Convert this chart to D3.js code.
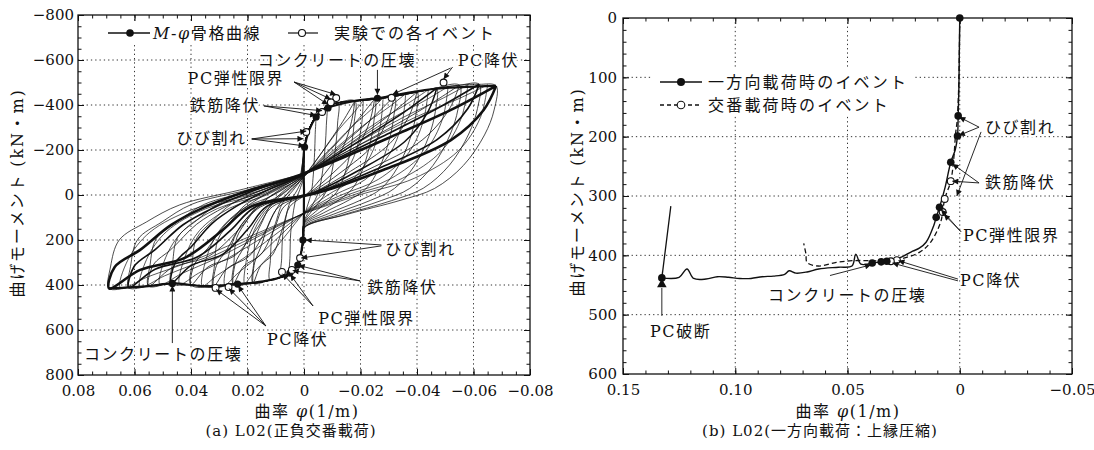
<!DOCTYPE html>
<html><head><meta charset="utf-8">
<script src="https://cdn.jsdelivr.net/npm/d3@7"></script>
<style>body{margin:0;background:#fff;}svg{display:block;}</style>
</head><body>
<svg id="c" width="1094" height="450"></svg>
<script>
// ===================== DATA : panel (a) =====================
const xTicksA = [0.08, 0.06, 0.04, 0.02, 0, -0.02, -0.04, -0.06, -0.08];
const yTicksA = [-800, -600, -400, -200, 0, 200, 400, 600, 800];
const xMinorA = d3.range(-16, 17).map(k => k * 0.005);
const yMinorA = d3.range(-16, 17).map(k => k * 50);

const envNeg = [[-0.0002,-205],[-0.001,-265],[-0.002,-300],[-0.004,-345],[-0.007,-385],[-0.012,-410],[-0.02,-420],[-0.026,-427],[-0.035,-445],[-0.045,-470],[-0.055,-488],[-0.062,-492]];
const envPos = [[0.0002,200],[0.0015,280],[0.0025,307],[0.005,350],[0.008,365],[0.012,378],[0.018,392],[0.025,395],[0.032,408],[0.04,400],[0.047,392],[0.055,405],[0.062,412]];

// cycle peaks: [phiNeg, Mneg, phiPos, Mpos]
const cycleTips = [
 [-0.004,-345,0.005,350],[-0.008,-395,0.008,365],[-0.012,-410,0.012,378],[-0.018,-418,0.018,392],
 [-0.025,-427,0.025,395],[-0.032,-440,0.032,408],[-0.04,-458,0.04,400],[-0.047,-475,0.047,392],
 [-0.055,-488,0.055,405],[-0.062,-492,0.062,412],[-0.068,-485,0.069,415]];

const unloadNeg = [
 [[-0.00396,-269],[-0.00376,-190],[-0.00332,-93],[-0.00272,-21],[-0.002,17],[-0.00088,62],[0,104]],
 [[-0.0079,-308],[-0.0075,-217],[-0.0066,-107],[-0.0054,-24],[-0.004,20],[-0.0018,71],[0,119]],
 [[-0.0119,-320],[-0.0113,-226],[-0.01,-111],[-0.0082,-25],[-0.006,21],[-0.0026,74],[0,123]],
 [[-0.0178,-326],[-0.0169,-230],[-0.0149,-113],[-0.0122,-25],[-0.009,21],[-0.004,75],[0,125]],
 [[-0.0248,-333],[-0.0235,-235],[-0.0208,-115],[-0.017,-26],[-0.0125,21],[-0.0055,77],[0,128]],
 [[-0.0317,-343],[-0.0301,-242],[-0.0266,-119],[-0.0218,-26],[-0.016,22],[-0.007,79],[0,132]],
 [[-0.0396,-357],[-0.0376,-252],[-0.0332,-124],[-0.0272,-27],[-0.02,23],[-0.0088,82],[0,137]],
 [[-0.0465,-371],[-0.0442,-261],[-0.039,-128],[-0.032,-29],[-0.0235,24],[-0.0103,86],[0,143]],
 [[-0.0545,-381],[-0.0517,-268],[-0.0457,-132],[-0.0374,-29],[-0.0275,24],[-0.0121,88],[0,146]],
 [[-0.0614,-384],[-0.0583,-271],[-0.0515,-133],[-0.0422,-30],[-0.031,25],[-0.0136,89],[0,148]],
 [[-0.0673,-378],[-0.0639,-267],[-0.0564,-131],[-0.0462,-29],[-0.034,24],[-0.015,87],[0,146]]];

const unloadPos = [
 [[0.00495,270],[0.0047,168],[0.00405,102],[0.0032,35],[0.00165,-18],[0.0001,-74]],
 [[0.0079,281],[0.0075,175],[0.0065,106],[0.0051,37],[0.0026,-18],[0.0002,-77]],
 [[0.0119,291],[0.0113,181],[0.0097,110],[0.0077,38],[0.004,-19],[0.0002,-79]],
 [[0.0178,302],[0.0171,188],[0.0146,114],[0.0115,39],[0.0059,-20],[0.0004,-82]],
 [[0.0248,304],[0.0238,190],[0.0203,115],[0.016,40],[0.0083,-20],[0.0005,-83]],
 [[0.0317,314],[0.0304,196],[0.0259,118],[0.0205,41],[0.0106,-20],[0.0006,-86]],
 [[0.0396,308],[0.038,192],[0.0324,116],[0.0256,40],[0.0132,-20],[0.0008,-84]],
 [[0.0465,302],[0.0447,188],[0.0381,114],[0.0301,39],[0.0155,-20],[0.0009,-82]],
 [[0.0545,312],[0.0523,194],[0.0446,117],[0.0352,41],[0.0182,-20],[0.0011,-85]],
 [[0.0614,317],[0.0589,198],[0.0502,119],[0.0397,41],[0.0205,-21],[0.0012,-87]],
 [[0.0685,320],[0.0654,200],[0.0558,120],[0.044,44],[0.0228,-22],[0.0014,-89]]];

// repeated (stabilised) cycles
const lensCycles = [
 [[-0.018,-418],[-0.0168,-326],[-0.0137,-209],[-0.0074,-96],[-0.0013,-8],[0.005,51],[0.0076,149],[0.011,263],[0.0153,314],[0.018,392],[0.0175,302],[0.0153,231],[0.0124,125],[0.0092,51],[0.005,-20],[0.0004,-75],[-0.009,-238],[-0.0137,-326],[-0.018,-418]],
 [[-0.025,-427],[-0.0234,-333],[-0.019,-214],[-0.0103,-98],[-0.0018,-9],[0.007,51],[0.0105,150],[0.0153,265],[0.0213,316],[0.025,395],[0.0243,304],[0.0213,233],[0.0173,126],[0.0128,51],[0.007,-20],[0.0005,-77],[-0.0125,-243],[-0.019,-333],[-0.025,-427]],
 [[-0.032,-440],[-0.0299,-343],[-0.0243,-220],[-0.0131,-101],[-0.0022,-9],[0.009,53],[0.0134,155],[0.0195,273],[0.0272,326],[0.032,408],[0.031,314],[0.0272,241],[0.0221,131],[0.0163,53],[0.009,-20],[0.0006,-79],[-0.016,-251],[-0.0243,-343],[-0.032,-440]],
 [[-0.04,-458],[-0.0374,-357],[-0.0304,-229],[-0.0164,-105],[-0.0028,-9],[0.0112,52],[0.0168,152],[0.0244,268],[0.034,320],[0.04,400],[0.0388,308],[0.034,236],[0.0276,128],[0.0204,52],[0.0112,-20],[0.0008,-82],[-0.02,-261],[-0.0304,-357],[-0.04,-458]],
 [[-0.047,-475],[-0.0439,-371],[-0.0357,-238],[-0.0193,-109],[-0.0033,-10],[0.0132,51],[0.0197,149],[0.0287,263],[0.04,314],[0.047,392],[0.0456,302],[0.04,231],[0.0324,125],[0.024,51],[0.0132,-20],[0.0009,-86],[-0.0235,-271],[-0.0357,-371],[-0.047,-475]],
 [[-0.055,-488],[-0.0514,-381],[-0.0418,-244],[-0.0226,-112],[-0.0039,-10],[0.0154,53],[0.0231,154],[0.0336,271],[0.0468,324],[0.055,405],[0.0534,312],[0.0468,239],[0.038,130],[0.028,53],[0.0154,-20],[0.0011,-88],[-0.0275,-278],[-0.0418,-381],[-0.055,-488]],
 [[-0.062,-492],[-0.058,-384],[-0.0471,-246],[-0.0254,-113],[-0.0043,-10],[0.0174,54],[0.026,157],[0.0378,276],[0.0527,330],[0.062,412],[0.0601,317],[0.0527,243],[0.0428,132],[0.0316,54],[0.0174,-21],[0.0012,-89],[-0.031,-280],[-0.0471,-384],[-0.062,-492]],
 [[-0.068,-485],[-0.0636,-378],[-0.052,-244],[-0.028,-111],[-0.0046,-9],[0.019,53],[0.029,158],[0.042,278],[0.058,333],[0.069,415],[0.067,320],[0.058,244],[0.047,133],[0.035,53],[0.019,-22],[0.0015,-89],[-0.034,-276],[-0.052,-378],[-0.068,-485]]];

// intermediate-amplitude cycles
const midCycles = [
 [[-0.021,-421],[-0.0202,-295],[-0.0176,-168],[-0.0126,-63],[-0.0063,0],[0,79],[0.0063,177],[0.0126,275],[0.0179,346],[0.021,393],[0.0202,275],[0.0176,157],[0.0126,59],[0.0063,0],[0,-84],[-0.0063,-189],[-0.0126,-295],[-0.0179,-370],[-0.021,-421]],
 [[-0.028,-432],[-0.0269,-302],[-0.0235,-173],[-0.0168,-65],[-0.0084,0],[0,80],[0.0084,180],[0.0168,280],[0.0238,352],[0.028,400],[0.0269,280],[0.0235,160],[0.0168,60],[0.0084,0],[0,-86],[-0.0084,-194],[-0.0168,-302],[-0.0238,-380],[-0.028,-432]],
 [[-0.036,-450],[-0.0346,-315],[-0.0302,-180],[-0.0216,-68],[-0.0108,0],[0,81],[0.0108,182],[0.0216,283],[0.0306,356],[0.036,404],[0.0346,283],[0.0302,162],[0.0216,61],[0.0108,0],[0,-90],[-0.0108,-203],[-0.0216,-315],[-0.0306,-396],[-0.036,-450]],
 [[-0.044,-468],[-0.0422,-328],[-0.037,-187],[-0.0264,-70],[-0.0132,0],[0,79],[0.0132,178],[0.0264,277],[0.0374,348],[0.044,396],[0.0422,277],[0.037,158],[0.0264,59],[0.0132,0],[0,-94],[-0.0132,-211],[-0.0264,-328],[-0.0374,-412],[-0.044,-468]],
 [[-0.051,-482],[-0.049,-337],[-0.0428,-193],[-0.0306,-72],[-0.0153,0],[0,80],[0.0153,179],[0.0306,279],[0.0434,350],[0.051,398],[0.049,279],[0.0428,159],[0.0306,60],[0.0153,0],[0,-96],[-0.0153,-217],[-0.0306,-337],[-0.0434,-424],[-0.051,-482]],
 [[-0.058,-490],[-0.0557,-343],[-0.0487,-196],[-0.0348,-74],[-0.0174,0],[0,82],[0.0174,184],[0.0348,286],[0.0493,359],[0.058,408],[0.0557,286],[0.0487,163],[0.0348,61],[0.0174,0],[0,-98],[-0.0174,-221],[-0.0348,-343],[-0.0493,-431],[-0.058,-490]],
 [[-0.065,-490],[-0.0624,-343],[-0.0546,-196],[-0.039,-74],[-0.0195,0],[0,83],[0.0195,186],[0.039,290],[0.0553,364],[0.065,414],[0.0624,290],[0.0546,166],[0.039,62],[0.0195,0],[0,-98],[-0.0195,-221],[-0.039,-343],[-0.0553,-431],[-0.065,-490]]];

const skeletonA = [[0.069,415],[0.055,405],[0.0466,393],[0.035,405],[0.0235,396],[0.012,378],[0.005,347],[0.0022,311],[0.0004,200],[0,0],[-0.0002,-213],[-0.0043,-347],[-0.0085,-387],[-0.018,-418],[-0.026,-430],[-0.045,-470],[-0.068,-485]];
const skelEventsA = [[-0.0002,-213],[-0.0043,-347],[-0.0085,-387],[-0.026,-430],[0.0004,200],[0.0022,311],[0.005,347],[0.0235,396],[0.0466,393]];
const expEventsA = [[-0.0008,-280],[-0.0064,-369],[-0.0114,-431],[-0.0095,-412],[-0.031,-432],[-0.0494,-500],[0.0014,280],[0.0043,333],[0.0078,342],[0.0267,409],[0.0313,413]];

const notesA = [
 {t:"コンクリートの圧壊", at:[0.0164,-600], arrows:[[[-0.026,-556],[-0.026,-446]]]},
 {t:"PC降伏", at:[-0.0544,-600], arrows:[[[-0.0526,-569],[-0.0494,-515]],[[-0.0519,-564],[-0.0313,-447]]]},
 {t:"PC弾性限界", at:[0.0412,-516], arrows:[[[0.0035,-502],[-0.0114,-446]],[[0.0035,-502],[-0.0095,-426]],[[0.0035,-502],[-0.0085,-402]]]},
 {t:"鉄筋降伏", at:[0.0405,-396], arrows:[[[0.0142,-396],[-0.0043,-353]],[[0.0142,-396],[-0.0064,-375]]]},
 {t:"ひび割れ", at:[0.0452,-253], arrows:[[[0.0185,-249],[-0.0008,-284]],[[0.0185,-249],[0.0002,-250]],[[0.0185,-249],[-0.0002,-218]]]},
 {t:"ひび割れ", at:[-0.0288,244], arrows:[[[-0.0274,222],[-0.0006,200]],[[-0.0274,226],[0.0010,280]]]},
 {t:"鉄筋降伏", at:[-0.0224,413], arrows:[[[-0.0199,382],[0.0019,313]],[[-0.0199,382],[0.0040,336]]]},
 {t:"PC弾性限界", at:[-0.005,547], arrows:[[[-0.0032,493],[0.0048,354]],[[-0.0032,493],[0.0076,350]]]},
 {t:"PC降伏", at:[0.0131,644], arrows:[[[0.0135,582],[0.0311,420]],[[0.0135,582],[0.0265,416]],[[0.0135,582],[0.0233,403]]]},
 {t:"コンクリートの圧壊", at:[0.0779,711], arrows:[[[0.0466,658],[0.0466,402]]]}];

// ===================== DATA : panel (b) =====================
const xTicksB = [0.15, 0.10, 0.05, 0, -0.05];
const yTicksB = [0, 100, 200, 300, 400, 500, 600];
const xMinorB = d3.range(-5, 16).map(k => k * 0.01);
const yMinorB = d3.range(0, 31).map(k => k * 20);

const monoCurve = [[0,0],[0.0002,60],[0.0004,120],[0.0007,165],[0.001,199],[0.002,222],[0.004,243],[0.0065,285],[0.009,319],[0.0105,336],[0.0116,350],[0.015,378],[0.018,388],[0.021,393],[0.026,403],[0.0325,410],[0.035,411],[0.039,413],[0.044,415],[0.0463,398],[0.048,418],[0.054,420],[0.0628,423],[0.068,428],[0.073,430],[0.076,426],[0.078,432],[0.083,435],[0.088,436],[0.093,439],[0.098,439],[0.103,437],[0.108,436],[0.113,440],[0.1185,439],[0.1215,423],[0.125,437],[0.1327,438]];
const afterBreak = [[0.1327,438],[0.1287,317]];
const cyclicCurve = [[0,0],[0.0005,120],[0.0012,175],[0.0018,193],[0.0027,238],[0.004,275],[0.0067,305],[0.0076,327],[0.0085,344],[0.013,378],[0.018,395],[0.028,408],[0.0307,410],[0.04,409],[0.048,409],[0.055,412],[0.063,418],[0.068,412],[0.0685,398],[0.0695,380]];
const monoEvents = [[0,0],[0.0007,165],[0.001,199],[0.004,243],[0.009,319],[0.0105,336],[0.0325,410],[0.035,411],[0.039,413],[0.1327,438]];
const cyclicEvents = [[0.004,275],[0.0067,305],[0.0076,327],[0.028,408],[0.0307,410]];
const breakMark = [0.1327,449];

const notesB = [
 {t:"ひび割れ", at:[-0.0112,184], arrows:[[[-0.0086,184],[0.0002,167]],[[-0.0086,184],[0.0004,198]],[[-0.0095,192],[0.0013,300]]]},
 {t:"鉄筋降伏", at:[-0.0112,278], arrows:[[[-0.0086,278],[0.0032,246]],[[-0.0086,278],[0.0033,275]]]},
 {t:"PC弾性限界", at:[-0.0014,366], arrows:[[[-0.0005,360],[0.0083,323]],[[-0.0005,360],[0.0070,331]]]},
 {t:"PC降伏", at:[-0.0001,443], arrows:[[[0.0008,440],[0.0273,409]],[[0.0008,443],[0.0300,413]]]},
 {t:"コンクリートの圧壊", at:[0.0854,468], arrows:[[[0.0578,434],[0.0395,416]]]},
 {t:"PC破断", at:[0.138,529], arrows:[]}];
const breakLine = [[0.1327,502],[0.1327,455]];

// ===================== DRAW =====================
const FONT = "'DejaVu Serif','Noto Sans CJK JP',serif";
const INK = "#111";
const svg = d3.select("#c");
svg.append("rect").attr("width",1094).attr("height",450).attr("fill","#fff");

const defs = svg.append("defs");
defs.append("marker").attr("id","ah").attr("viewBox","0 0 10 10").attr("refX",10).attr("refY",5)
  .attr("markerWidth",8).attr("markerHeight",6).attr("markerUnits","userSpaceOnUse").attr("orient","auto")
  .append("path").attr("d","M0,0L10,5L0,10z").attr("fill",INK);

const xA = d3.scaleLinear().domain([0.08,-0.08]).range([78,530]);
const yA = d3.scaleLinear().domain([-800,800]).range([15,375]);
const xB = d3.scaleLinear().domain([0.15,-0.05]).range([623,1072]);
const yB = d3.scaleLinear().domain([0,600]).range([18,374]);

function grid(g, x, y, xs, ys){
  const [L,R]=x.range(), [T,B]=y.range();
  g.append("g").selectAll("line").data(xs.filter(v=>x(v)>L+2&&x(v)<R-2)).join("line")
   .attr("x1",d=>x(d)).attr("x2",d=>x(d)).attr("y1",T).attr("y2",B)
   .attr("stroke","#333").attr("stroke-width",1).attr("stroke-dasharray","1.3,3");
  g.append("g").selectAll("line").data(ys.filter(v=>y(v)>T+2&&y(v)<B-2)).join("line")
   .attr("y1",d=>y(d)).attr("y2",d=>y(d)).attr("x1",L).attr("x2",R)
   .attr("stroke","#333").attr("stroke-width",1).attr("stroke-dasharray","1.3,3");
}
function styleAxis(s){
  s.select(".domain").remove();
  s.selectAll("line").attr("stroke",INK).attr("stroke-width",1);
  s.selectAll("text").attr("font-family",FONT).attr("font-size",15).attr("fill",INK);
}
function frame(g, x, y, xs, xm, ys, ym, fx, fy, padL){
  const [L,R]=x.range(), [T,B]=y.range();
  g.append("g").attr("transform",`translate(0,${B})`).call(d3.axisBottom(x).tickValues(xm).tickSize(-3.5).tickFormat("")).call(styleAxis);
  g.append("g").attr("transform",`translate(0,${T})`).call(d3.axisTop(x).tickValues(xm).tickSize(-3.5).tickFormat("")).call(styleAxis);
  g.append("g").attr("transform",`translate(${L},0)`).call(d3.axisLeft(y).tickValues(ym).tickSize(-3.5).tickFormat("")).call(styleAxis);
  g.append("g").attr("transform",`translate(${R},0)`).call(d3.axisRight(y).tickValues(ym).tickSize(-3.5).tickFormat("")).call(styleAxis);
  g.append("g").attr("transform",`translate(0,${B})`).call(d3.axisBottom(x).tickValues(xs).tickSize(-6).tickPadding(10).tickFormat(fx)).call(styleAxis);
  g.append("g").attr("transform",`translate(0,${T})`).call(d3.axisTop(x).tickValues(xs).tickSize(-6).tickFormat("")).call(styleAxis);
  g.append("g").attr("transform",`translate(${L},0)`).call(d3.axisLeft(y).tickValues(ys).tickSize(-6).tickPadding(padL).tickFormat(fy)).call(styleAxis);
  g.append("g").attr("transform",`translate(${R},0)`).call(d3.axisRight(y).tickValues(ys).tickSize(-6).tickFormat("")).call(styleAxis);
  g.append("rect").attr("x",L).attr("y",T).attr("width",R-L).attr("height",B-T)
   .attr("fill","none").attr("stroke",INK).attr("stroke-width",1.3);
}
function txt(g, x, y, s, size, anchor, ls){
  return g.append("text").attr("x",x).attr("y",y).attr("font-family",FONT).attr("font-size",size||16)
    .attr("fill",INK).attr("text-anchor",anchor||"start").attr("dominant-baseline","central")
    .attr("letter-spacing",ls==null?1.6:ls).text(s);
}
function notes(g, x, y, list){
  list.forEach(n=>{
    n.arrows.forEach(a=>{
      g.append("line").attr("x1",x(a[0][0])).attr("y1",y(a[0][1])).attr("x2",x(a[1][0])).attr("y2",y(a[1][1]))
       .attr("stroke",INK).attr("stroke-width",0.9).attr("marker-end","url(#ah)");
    });
  });
  list.forEach(n=>{
    txt(g, x(n.at[0]), y(n.at[1]), n.t, 16, "start")
      .attr("stroke","#fff").attr("stroke-width",4).attr("paint-order","stroke").attr("stroke-linejoin","round");
  });
}
const fmtTick = v => v===0 ? "0" : d3.format(".2f")(v);

// -------- panel (a) --------
const gA = svg.append("g");
grid(gA, xA, yA, xTicksA, yTicksA);
const lineA = d3.line().x(d=>xA(d[0])).y(d=>yA(d[1])).curve(d3.curveCatmullRom.alpha(0.5));
cycleTips.forEach((c,i)=>{
  const start = i===0 ? [[0,0]] : [unloadPos[i-1][unloadPos[i-1].length-1]];
  const pts = start.concat(envNeg.filter(p=>p[0]>c[0]), [[c[0],c[1]]], unloadNeg[i],
    envPos.filter(p=>p[0]<c[2]), [[c[2],c[3]]], unloadPos[i]);
  gA.append("path").attr("d",lineA(pts)).attr("fill","none").attr("stroke",INK).attr("stroke-width",0.75);
});
midCycles.forEach(c=>{
  gA.append("path").attr("d",lineA(c)).attr("fill","none").attr("stroke",INK).attr("stroke-width",0.7);
});
lensCycles.forEach((c,i)=>{
  const w = i===lensCycles.length-1 ? 2.6 : (i===lensCycles.length-2 ? 1.7 : (i===4 ? 1.5 : 0.8));
  gA.append("path").attr("d",lineA(c)).attr("fill","none").attr("stroke",INK).attr("stroke-width",w);
});
gA.append("path").attr("d",lineA(skeletonA)).attr("fill","none").attr("stroke",INK).attr("stroke-width",2.2);
gA.append("g").selectAll("circle").data(skelEventsA).join("circle")
  .attr("cx",d=>xA(d[0])).attr("cy",d=>yA(d[1])).attr("r",3.6).attr("fill",INK);
gA.append("g").selectAll("circle").data(expEventsA).join("circle")
  .attr("cx",d=>xA(d[0])).attr("cy",d=>yA(d[1])).attr("r",3.4).attr("fill","#fff").attr("stroke",INK).attr("stroke-width",1.1);
notes(gA, xA, yA, notesA);
// legend (a)
const lgA = gA.append("g");
lgA.append("rect").attr("x",100).attr("y",23).attr("width",408).attr("height",21).attr("fill","#fff");
lgA.append("line").attr("x1",108).attr("x2",150).attr("y1",33).attr("y2",33).attr("stroke",INK).attr("stroke-width",1.5);
lgA.append("circle").attr("cx",130).attr("cy",33).attr("r",3.8).attr("fill",INK);
const tA1 = txt(lgA, 153, 33, "", 16, "start", 1.6);
tA1.append("tspan").attr("font-style","italic").text("M");
tA1.append("tspan").text("-");
tA1.append("tspan").attr("font-style","italic").text("φ");
tA1.append("tspan").text("骨格曲線");
lgA.append("line").attr("x1",288).attr("x2",318).attr("y1",33).attr("y2",33).attr("stroke",INK).attr("stroke-width",1.2);
lgA.append("circle").attr("cx",302).attr("cy",33).attr("r",3.5).attr("fill","#fff").attr("stroke",INK).attr("stroke-width",1.1);
txt(lgA, 334, 33, "実験での各イベント", 16, "start", 2);
frame(gA, xA, yA, xTicksA, xMinorA, yTicksA, yMinorA, fmtTick, d3.format("d"), 4);
txt(gA, 0, 0, "曲げモーメント (kN・m)", 16, "middle", 1.8).attr("transform","translate(17,193) rotate(-90)");
const xtA = txt(gA, 307, 411, "曲率 ", 16, "middle", 1.5);
xtA.append("tspan").attr("font-style","italic").text("φ");
xtA.append("tspan").text("(1/m)");
txt(gA, 291, 431, "(a)  L02(正負交番載荷)", 15, "middle", 1);

// -------- panel (b) --------
const gB = svg.append("g");
grid(gB, xB, yB, xTicksB, yTicksB);
const lineB = d3.line().x(d=>xB(d[0])).y(d=>yB(d[1]));
gB.append("path").attr("d",lineB.curve(d3.curveCatmullRom.alpha(0.5))(cyclicCurve)).attr("fill","none")
  .attr("stroke",INK).attr("stroke-width",1.3).attr("stroke-dasharray","5,3");
gB.append("path").attr("d",lineB.curve(d3.curveCatmullRom.alpha(0.5))(monoCurve)).attr("fill","none")
  .attr("stroke",INK).attr("stroke-width",1.4);
gB.append("path").attr("d",lineB.curve(d3.curveLinear)(afterBreak)).attr("fill","none")
  .attr("stroke",INK).attr("stroke-width",1.3);
gB.append("g").selectAll("circle").data(cyclicEvents).join("circle")
  .attr("cx",d=>xB(d[0])).attr("cy",d=>yB(d[1])).attr("r",3.4).attr("fill","#fff").attr("stroke",INK).attr("stroke-width",1.1);
gB.append("g").selectAll("circle").data(monoEvents).join("circle")
  .attr("cx",d=>xB(d[0])).attr("cy",d=>yB(d[1])).attr("r",3.8).attr("fill",INK);
gB.append("path").attr("d",d3.symbol().type(d3.symbolTriangle).size(40)())
  .attr("transform",`translate(${xB(breakMark[0])},${yB(breakMark[1])})`).attr("fill",INK);
gB.append("line").attr("x1",xB(breakLine[0][0])).attr("x2",xB(breakLine[1][0]))
  .attr("y1",yB(breakLine[0][1])).attr("y2",yB(breakLine[1][1])).attr("stroke",INK).attr("stroke-width",0.9);
notes(gB, xB, yB, notesB);
const lgB = gB.append("g");
lgB.append("rect").attr("x",652).attr("y",68).attr("width",263).attr("height",48).attr("fill","#fff");
lgB.append("line").attr("x1",660).attr("x2",702).attr("y1",82).attr("y2",82).attr("stroke",INK).attr("stroke-width",1.6);
lgB.append("circle").attr("cx",681).attr("cy",82).attr("r",4).attr("fill",INK);
txt(lgB, 708, 82, "一方向載荷時のイベント", 16, "start", 2.2);
lgB.append("line").attr("x1",660).attr("x2",702).attr("y1",105).attr("y2",105).attr("stroke",INK).attr("stroke-width",1.3).attr("stroke-dasharray","4,3");
lgB.append("circle").attr("cx",681).attr("cy",105).attr("r",3.8).attr("fill","#fff").attr("stroke",INK).attr("stroke-width",1.1);
txt(lgB, 708, 105, "交番載荷時のイベント", 16, "start", 2.2);
frame(gB, xB, yB, xTicksB, xMinorB, yTicksB, yMinorB, fmtTick, d3.format("d"), 6);
txt(gB, 0, 0, "曲げモーメント (kN・m)", 16, "middle", 1.8).attr("transform","translate(577,192) rotate(-90)");
const xtB = txt(gB, 848, 411, "曲率 ", 16, "middle", 1.5);
xtB.append("tspan").attr("font-style","italic").text("φ");
xtB.append("tspan").text("(1/m)");
txt(gB, 820, 431, "(b)  L02(一方向載荷：上縁圧縮)", 15, "middle", 1);
</script>
</body></html>
